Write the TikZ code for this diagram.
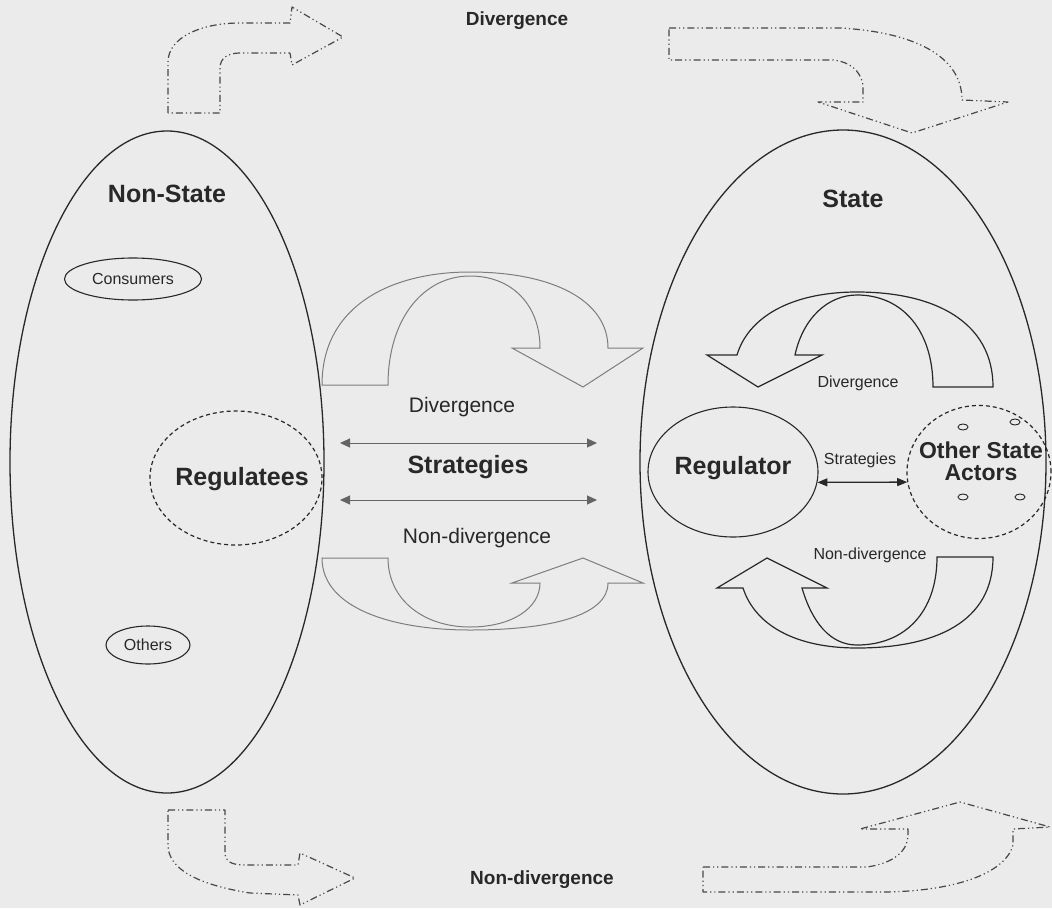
\documentclass[tikz,border=0pt]{standalone}
\usepackage{fontspec}
\setmainfont{Liberation Sans}
\usetikzlibrary{shapes.geometric,arrows.meta}
\definecolor{bg}{RGB}{235,235,235}
\definecolor{ink}{RGB}{40,40,40}
\definecolor{lite}{RGB}{125,125,125}
\newcommand\fsz[1]{\fontsize{#1}{#1}\selectfont}
\tikzset{
  bigell/.style={draw=ink,line width=1.3pt,ellipse,inner sep=0pt},
  subell/.style={draw=ink,line width=1.1pt,ellipse,inner sep=0pt},
  dashell/.style={draw=ink,line width=1.2pt,ellipse,inner sep=0pt,dash pattern=on 4pt off 3pt},
  tinyell/.style={draw=ink,line width=0.9pt,ellipse,inner sep=0pt,minimum width=10pt,minimum height=6pt},
  ddarrow/.style={draw=ink!85,line width=1.2pt,line join=round,dash pattern=on 7pt off 3pt on 1.2pt off 3pt on 1.2pt off 3pt},
  litearrow/.style={draw=lite,line width=1pt,line join=miter},
  darkarrow/.style={draw=ink,line width=1.2pt,line join=miter},
  dbl/.style={lite!80!black,line width=1pt,{Triangle[length=10pt,width=9pt]}-{Triangle[length=10pt,width=9pt]}},
  dbldark/.style={ink,line width=1.3pt,{Triangle[length=10pt,width=8pt]}-{Triangle[length=10pt,width=8pt]}},
  bigtxt/.style={text=ink,font=\fsz{25}\bfseries,inner sep=0pt},
  midtxt/.style={text=ink,font=\fsz{21},inner sep=0pt},
  smalltxt/.style={text=ink,font=\fsz{16},inner sep=0pt},
  toptxt/.style={text=ink,font=\fsz{19}\bfseries,inner sep=0pt}
}
\begin{document}
\begin{tikzpicture}[x=1pt,y=-1pt]
\fill[bg] (0,0) rectangle (1052,908);
\useasboundingbox (0,0) rectangle (1052,908);

% big ellipses
\node[bigell,minimum width=314pt,minimum height=662pt] (ns) at (167,462) {};
\node[bigell,minimum width=406pt,minimum height=664pt] (st) at (843,462) {};

% non-state contents
\node[bigtxt] (nslab) at (167,194) {Non-State};
\node[subell,minimum width=137pt,minimum height=42pt] (cons) at (133,279) {};
\node[smalltxt] at (cons) {Consumers};
\node[subell,minimum width=84pt,minimum height=38pt] (oth) at (148,645) {};
\node[smalltxt] at (oth) {Others};
\node[dashell,minimum width=172pt,minimum height=134pt] (regs) at (236,478) {};
\node[bigtxt] at (242,479) {Regulatees};

% state contents
\node[bigtxt] (stlab) at (853,199) {State};
\node[subell,minimum width=170pt,minimum height=130pt] (reg) at (733,472) {};
\node[bigtxt] at (733,468) {Regulator};
\node[dashell,minimum width=144pt,minimum height=133pt] (osa) at (979,472) {};
\node[bigtxt,align=center,font=\fsz{23}\bfseries] at (981,461) {Other State\\[-1pt]Actors};
\node[tinyell] (o1) at (963,427) {};
\node[tinyell] (o2) at (1015,422) {};
\node[tinyell] (o3) at (963,497) {};
\node[tinyell] (o4) at (1020,497) {};
\node[smalltxt] (sstrat) at (860,460) {Strategies};
\draw[dbldark] (reg.-7) -- (osa.188);
\node[smalltxt] (sdiv) at (858,383) {Divergence};
\node[smalltxt] (snondiv) at (870,555) {Non-divergence};

% middle strategies
\coordinate (a1) at (340,443);
\coordinate (b1) at (597,443);
\coordinate (a2) at (340,500);
\coordinate (b2) at (597,500);
\draw[dbl] (a1) -- (b1);
\draw[dbl] (a2) -- (b2);
\node[midtxt] (mdiv) at (462,407) {Divergence};
\node[bigtxt] (mstrat) at (468,467) {Strategies};
\node[midtxt] (mnondiv) at (477,538) {Non-divergence};

% middle curved arrows (light)
\draw[litearrow] (322,385) .. controls (322,305) and (392,272) .. (470,272)
  .. controls (552,272) and (608,300) .. (608,348) -- (643,348) -- (583,387) -- (512,348) -- (540,348)
  .. controls (540,305) and (512,276) .. (470,276)
  .. controls (424,276) and (388,318) .. (388,385) -- cycle;
\draw[litearrow] (322,558) .. controls (322,608) and (392,630) .. (470,630)
  .. controls (552,630) and (608,615) .. (608,583) -- (643,583) -- (583,558) -- (512,583) -- (540,583)
  .. controls (540,608) and (512,627) .. (470,627)
  .. controls (424,627) and (388,600) .. (388,558) -- cycle;

% state curved arrows (dark)
\draw[darkarrow] (993,387) .. controls (993,322) and (935,292) .. (857,292)
  .. controls (790,292) and (748,318) .. (737,355) -- (707,355) -- (758,387) -- (822,355) -- (795,355)
  .. controls (803,318) and (828,295) .. (857,295)
  .. controls (902,295) and (933,330) .. (933,387) -- cycle;
\draw[darkarrow] (993,557) .. controls (993,622) and (935,648) .. (857,648)
  .. controls (795,648) and (755,625) .. (743,588) -- (717,588) -- (767,558) -- (827,588) -- (802,588)
  .. controls (812,622) and (830,645) .. (857,645)
  .. controls (905,645) and (937,612) .. (937,557) -- cycle;

% dash-dot outline arrows
\draw[ddarrow] (168,113) -- (168,62) .. controls (168,38) and (200,23) .. (240,23) -- (290,23) -- (292,7)
  -- (343,37) -- (292,65) -- (290,53) -- (240,53) .. controls (228,53) and (220,58) .. (220,68) -- (220,113) -- cycle;
\draw[ddarrow] (669,28) -- (840,28) .. controls (912,32) and (962,55) .. (962,100) -- (1008,102) -- (912,133)
  -- (818,102) -- (863,102) -- (863,85) .. controls (860,70) and (850,62) .. (833,60) -- (669,60) -- cycle;
\draw[ddarrow] (168,810) -- (225,810) -- (225,852) .. controls (225,862) and (232,865) .. (245,865) -- (298,865)
  -- (300,853) -- (355,878) -- (300,905) -- (298,895) -- (250,893) .. controls (200,885) and (168,870) .. (168,845) -- cycle;
\draw[ddarrow] (703,867) -- (867,867) .. controls (895,863) and (908,850) .. (908,835) -- (908,829) -- (860,829)
  -- (960,802) -- (1050,827) -- (1013,829) -- (1013,845) .. controls (1005,875) and (950,892) .. (880,892) -- (703,892) -- cycle;

\node[toptxt] (tdiv) at (517,21) {Divergence};
\node[toptxt] (bnondiv) at (542,880) {Non-divergence};
\end{tikzpicture}
\end{document}
